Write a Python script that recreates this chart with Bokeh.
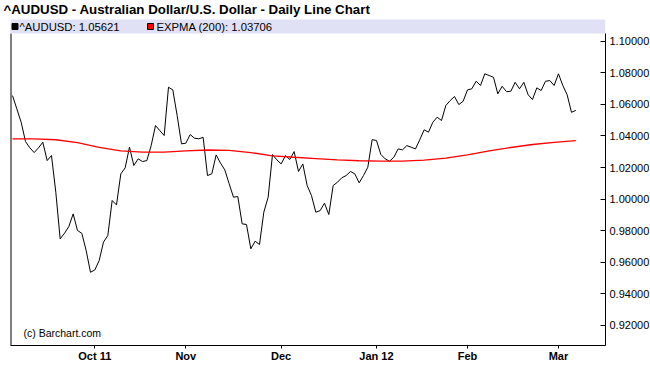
import pandas as pd
from bokeh.plotting import figure
from bokeh.models import Range1d, FixedTicker, PrintfTickFormatter, Label
from bokeh.embed import file_html
from bokeh.resources import INLINE

# ---------------- data ----------------
title_text = "^AUDUSD - Australian Dollar/U.S. Dollar - Daily Line Chart"
start_date = "2011-09-06"
holidays = ["2012-01-02"]

aud = [
    1.0656, 1.0572, 1.0487, 1.0365, 1.0325, 1.0295, 1.0325, 1.0360, 1.0244, 1.0276,
    1.0043, 0.9748, 0.9783, 0.9826, 0.9906, 0.9801, 0.9783, 0.9674, 0.9536, 0.9551,
    0.9610, 0.9727, 0.9769, 0.9991, 0.9963, 1.0160, 1.0198, 1.0329, 1.0213, 1.0255,
    1.0238, 1.0244, 1.0339, 1.0466, 1.0434, 1.0403, 1.0709, 1.0692, 1.0529, 1.0350,
    1.0354, 1.0409, 1.0386, 1.0382, 1.0391, 1.0149, 1.0160, 1.0280, 1.0228, 1.0185,
    1.0097, 1.0012, 1.0016, 0.9843, 0.9839, 0.9685, 0.9733, 0.9712, 0.9917, 1.0012,
    1.0282, 1.0249, 1.0223, 1.0276, 1.0251, 1.0301, 1.0175, 1.0223, 1.0086, 1.0022,
    0.9917, 0.9927, 0.9974, 0.9902, 1.0086, 1.0107, 1.0135, 1.0149, 1.0175, 1.0160,
    1.0103, 1.0149, 1.0202, 1.0377, 1.0371, 1.0283, 1.0255, 1.0240, 1.0265, 1.0318,
    1.0312, 1.0339, 1.0329, 1.0318, 1.0377, 1.0439, 1.0424, 1.0487, 1.0519, 1.0498,
    1.0593, 1.0624, 1.0650, 1.0599, 1.0620, 1.0692, 1.0699, 1.0747, 1.0720, 1.0794,
    1.0783, 1.0772, 1.0667, 1.0715, 1.0681, 1.0683, 1.0740, 1.0699, 1.0740, 1.0661,
    1.0631, 1.0705, 1.0688, 1.0747, 1.0751, 1.0720, 1.0794, 1.0720, 1.0661, 1.0550,
    1.05621,
]

# EXPMA(200) read every 5th trading day
ema_step = 5
ema = [
    1.0382, 1.0381, 1.0376, 1.0358, 1.0328, 1.0306, 1.0297, 1.0298, 1.0306, 1.0311,
    1.0309, 1.0295, 1.0274, 1.0265, 1.0257, 1.0249, 1.0243, 1.0240, 1.0241, 1.0247,
    1.0259, 1.0280, 1.0305, 1.0327, 1.0346, 1.0360, 1.03706,
]

month_labels = ["Oct 11", "Nov", "Dec", "Jan 12", "Feb", "Mar"]
y_ticks = [0.92, 0.94, 0.96, 0.98, 1.00, 1.02, 1.04, 1.06, 1.08, 1.10]

# ---------------- derived ----------------
dates = pd.bdate_range(start=start_date, periods=len(aud), freq="C", holidays=holidays)
xs = list(range(len(aud)))
month_idx = [i for i in range(1, len(dates)) if dates[i].month != dates[i - 1].month]
ema_x = list(range(0, len(aud), ema_step))

# ---------------- layout ----------------
FW, FH = 605, 345          # frame size (px), frame starts at the page's top-left
BL, BR, BT, BB = 0, 45, 0, 41
x_start, x_end = -2.7677, 136.85
y_start, y_end = 0.9072, 1.12586
FONT = "Liberation Sans"


def xd(px):
    return x_start + (px - BL) / FW * (x_end - x_start)


def yd(py):
    return y_end - (py - BT) / FH * (y_end - y_start)


chart_top = yd(33)         # top of price area (below legend band)
chart_left = xd(10)        # left edge of price area

p = figure(frame_width=FW, frame_height=FH,
           min_border_left=BL, min_border_right=BR,
           min_border_top=BT, min_border_bottom=BB,
           x_range=Range1d(x_start, x_end), y_range=Range1d(y_start, y_end),
           y_axis_location="right", tools="", toolbar_location=None,
           output_backend="svg", background_fill_color="white",
           border_fill_color="white")
p.outline_line_color = None
p.xgrid.visible = False
p.ygrid.visible = False

# right price axis
ya = p.yaxis[0]
ya.ticker = FixedTicker(ticks=y_ticks)
ya.formatter = PrintfTickFormatter(format="%.5f")
ya.bounds = (y_start, chart_top)
ya.major_tick_in = 5
ya.major_tick_out = 0
ya.minor_tick_line_color = None
ya.major_label_standoff = 4
ya.major_label_text_font = FONT
ya.major_label_text_font_size = "11px"
ya.major_label_text_color = "black"
ya.axis_line_color = "black"
ya.major_tick_line_color = "black"

# bottom date axis
xa = p.xaxis[0]
xa.ticker = FixedTicker(ticks=month_idx)
xa.major_label_overrides = {i: lab for i, lab in zip(month_idx, month_labels)}
xa.bounds = (chart_left, x_end)
xa.major_tick_in = 0
xa.major_tick_out = 3
xa.minor_tick_line_color = None
xa.major_label_standoff = 1
xa.major_label_text_font = FONT
xa.major_label_text_font_style = "bold"
xa.major_label_text_font_size = "11px"
xa.major_label_text_color = "black"
xa.axis_line_color = "black"
xa.major_tick_line_color = "black"

# left border of the price area
p.segment(x0=[xd(10.5)], y0=[y_start], x1=[xd(10.5)], y1=[chart_top],
          line_color="black", line_width=1)

# legend band
p.quad(left=[chart_left], right=[x_end], bottom=[chart_top], top=[yd(19)],
       fill_color="#e1e1f5", line_color=None)

# series
p.line(xs, aud, line_color="black", line_width=1)
p.line(ema_x, ema, line_color="#ff0000", line_width=1.3)

# legend markers & texts
p.scatter([xd(14.5)], [yd(26)], marker="square", size=6, fill_color="black", line_color="black")
p.scatter([xd(150)], [yd(26)], marker="square", size=6, fill_color="#ff0000", line_color="black")
p.add_layout(Label(x=xd(19), y=yd(26), text=f"^AUDUSD: {aud[-1]:.5f}",
                   text_font=FONT, text_font_size="11.3px", text_baseline="middle",
                   text_color="black"))
p.add_layout(Label(x=xd(156), y=yd(26), text=f"EXPMA (200): {ema[-1]:.5f}",
                   text_font=FONT, text_font_size="11.3px", text_baseline="middle",
                   text_color="black"))

# title
p.add_layout(Label(x=xd(3), y=yd(9), text=title_text, text_font=FONT,
                   text_font_size="13.3px", text_font_style="bold",
                   text_baseline="middle", text_align="left", text_color="black"))

# copyright
p.add_layout(Label(x=xd(23), y=yd(332), text="(c) Barchart.com", text_font=FONT,
                   text_font_size="10.5px", text_baseline="middle", text_color="black"))

# last value box
p.add_layout(Label(x=x_end, y=aud[-1], x_offset=3, text=f"{aud[-1]:.5f}",
                   text_font=FONT, text_font_size="11px", text_baseline="middle",
                   text_color="white", background_fill_color="black", padding=1))

open("out.html", "w").write(file_html(p, INLINE))
